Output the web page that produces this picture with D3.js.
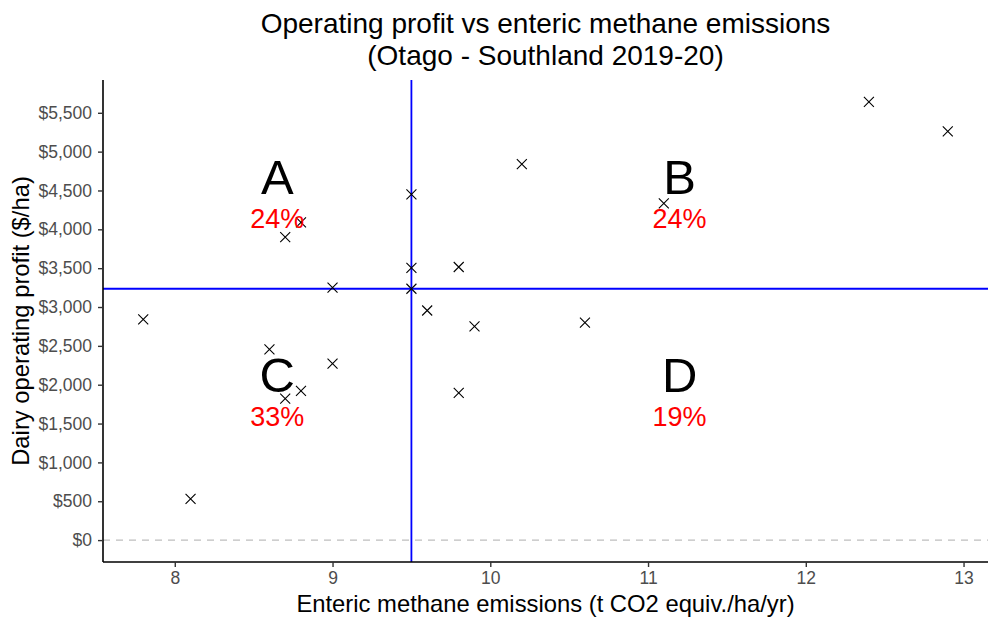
<!DOCTYPE html>
<html>
<head>
<meta charset="utf-8">
<script src="https://cdn.jsdelivr.net/npm/d3@7"></script>
<style>
  html, body { margin: 0; padding: 0; background: #fff; }
  svg { display: block; font-family: "Liberation Sans", Arial, sans-serif; }
</style>
</head>
<body>
<svg id="chart" width="1000" height="623"></svg>
<script>
// ---- Data ----
const emissions = [7.8, 8.1, 8.6, 8.7, 8.7, 8.8, 8.8, 9.0, 9.0, 9.5, 9.5, 9.5, 9.6, 9.8, 9.8, 9.9, 10.2, 10.6, 11.1, 12.4, 12.9];
const profit    = [2840, 530, 2455, 3900, 1820, 4090, 1920, 3250, 2270, 4450, 3505, 3235, 2955, 3515, 1895, 2750, 4840, 2800, 4335, 5640, 5260];
const xTicks = [8, 9, 10, 11, 12, 13];
const yTicks = [0, 500, 1000, 1500, 2000, 2500, 3000, 3500, 4000, 4500, 5000, 5500];
const quadLetters = ["A", "B", "C", "D"];
const quadPercents = ["24%", "24%", "33%", "19%"];
const quadX = [8.65, 11.2, 8.65, 11.2];
const quadY = [4460, 4460, 1900, 1900];
const titleLines = ["Operating profit vs enteric methane emissions", "(Otago - Southland 2019-20)"];
const xTitle = "Enteric methane emissions (t CO2 equiv./ha/yr)";
const yTitle = "Dairy operating profit ($/ha)";

(function () {
// ---- Layout ----
const svg = d3.select("#chart");
const pLeft = 103, pRight = 988, pTop = 80, pBottom = 562;

const points = emissions.map((e, i) => ({ x: e, y: profit[i] }));

// ggplot-like expansion (5%), y range includes the 0 reference line
const xMin = d3.min(emissions), xMax = d3.max(emissions);
const yMin = Math.min(0, d3.min(profit)), yMax = d3.max(profit);
const xPad = (xMax - xMin) * 0.05, yPad = (yMax - yMin) * 0.05;

const x = d3.scaleLinear().domain([xMin - xPad, xMax + xPad]).range([pLeft, pRight]);
const y = d3.scaleLinear().domain([yMin - yPad, yMax + yPad]).range([pBottom, pTop]);

const xRef = d3.median(emissions);
const yRef = d3.median(profit);

// Zero dashed line
svg.append("line")
  .attr("x1", pLeft).attr("x2", pRight)
  .attr("y1", y(0)).attr("y2", y(0))
  .attr("stroke", "#BEBEBE").attr("stroke-width", 1.4)
  .attr("stroke-dasharray", "7,6");

// Reference lines (medians)
svg.append("line")
  .attr("x1", x(xRef)).attr("x2", x(xRef))
  .attr("y1", pTop).attr("y2", pBottom)
  .attr("stroke", "#0000FF").attr("stroke-width", 1.8);
svg.append("line")
  .attr("x1", pLeft).attr("x2", pRight)
  .attr("y1", y(yRef)).attr("y2", y(yRef))
  .attr("stroke", "#0000FF").attr("stroke-width", 1.8);

// Points (x shape)
const s = 5;
const pg = svg.append("g");
points.forEach(p => {
  const px = x(p.x), py = y(p.y);
  pg.append("path")
    .attr("d", `M${px - s},${py - s}L${px + s},${py + s}M${px - s},${py + s}L${px + s},${py - s}`)
    .attr("stroke", "#000").attr("stroke-width", 1.1).attr("fill", "none");
});

// Quadrant labels
quadLetters.forEach((L, i) => {
  svg.append("text")
    .attr("x", x(quadX[i])).attr("y", y(quadY[i]))
    .attr("text-anchor", "middle")
    .attr("font-size", 49).attr("fill", "#000")
    .text(L);
  svg.append("text")
    .attr("x", x(quadX[i])).attr("y", y(quadY[i]) + 34)
    .attr("text-anchor", "middle")
    .attr("font-size", 27).attr("fill", "#FF0000")
    .text(quadPercents[i]);
});

// Axes
const xAxis = d3.axisBottom(x).tickValues(xTicks).tickSize(5).tickPadding(5).tickFormat(d3.format("d"));
const yAxis = d3.axisLeft(y).tickValues(yTicks).tickSize(5).tickPadding(6)
  .tickFormat(d => "$" + d3.format(",")(d));

const gx = svg.append("g").attr("transform", `translate(0,${pBottom})`).call(xAxis);
const gy = svg.append("g").attr("transform", `translate(${pLeft},0)`).call(yAxis);

[gx, gy].forEach(g => {
  g.select(".domain").attr("stroke", "#000").attr("stroke-width", 1.6);
  g.selectAll(".tick line").attr("stroke", "#333").attr("stroke-width", 1.4);
  g.selectAll(".tick text").attr("fill", "#4D4D4D").attr("font-size", 17.5)
    .attr("font-family", '"Liberation Sans", Arial, sans-serif');
});
gx.select(".domain").attr("d", `M${pLeft},0H${pRight}`);
gy.select(".domain").attr("d", `M0,${pTop}V${pBottom}`);

// Titles
const cx = (pLeft + pRight) / 2;
svg.append("text").attr("x", cx).attr("y", 33)
  .attr("text-anchor", "middle").attr("font-size", 28).attr("fill", "#000")
  .text(titleLines[0]);
svg.append("text").attr("x", cx).attr("y", 65)
  .attr("text-anchor", "middle").attr("font-size", 28).attr("fill", "#000")
  .text(titleLines[1]);

svg.append("text").attr("x", cx).attr("y", 612)
  .attr("text-anchor", "middle").attr("font-size", 23.8).attr("fill", "#000")
  .text(xTitle);

svg.append("text")
  .attr("transform", `translate(29,${(pTop + pBottom) / 2}) rotate(-90)`)
  .attr("text-anchor", "middle").attr("font-size", 23.8).attr("fill", "#000")
  .text(yTitle);
})();
</script>
</body>
</html>
